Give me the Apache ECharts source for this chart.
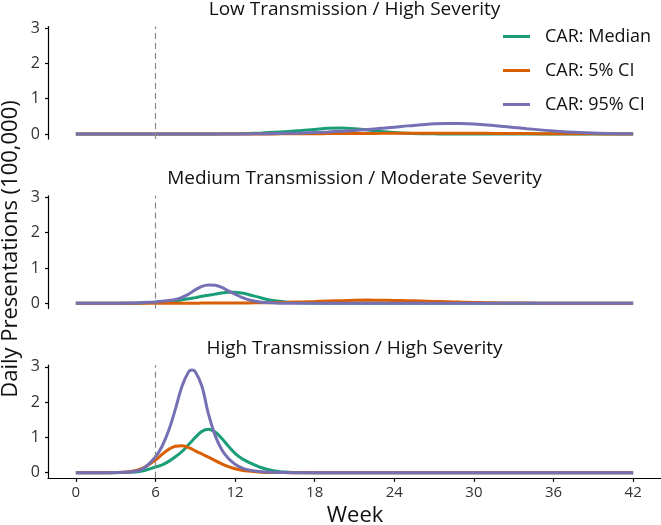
<!DOCTYPE html>
<html>
<head>
<meta charset="utf-8">
<script src="https://cdn.jsdelivr.net/npm/echarts@6/dist/echarts.min.js"></script>
<style>html,body{margin:0;padding:0;background:#fff}#c{width:661px;height:525px}</style>
</head>
<body>
<div id="c"></div>
<script>
var weeks = [0,2,4,5,6,6.5,7,7.5,8,8.5,8.75,9,9.5,10,10.5,11,11.5,12,12.5,13,14,15,16,17,18,19,20,21,22,23,24,25,26,27,28,29,30,31,32,33,34,36,38,40,42];

var panelTitles = ["Low Transmission / High Severity", "Medium Transmission / Moderate Severity", "High Transmission / High Severity"];
var seriesNames = ["CAR: Median", "CAR: 5% CI", "CAR: 95% CI"];
var xTicks = [0,6,12,18,24,30,36,42];
var yTicks = [0,1,2,3];
var interventionWeek = 6;

var lowMedian = [0,0,0,0,0,0,0,0,0,0,0,0,0,0.002,0.003,0.004,0.006,0.008,0.011,0.015,0.03,0.05,0.07,0.1,0.13,0.16,0.17,0.15,0.11,0.07,0.04,0.02,0.01,0.005,0,0,0,0,0,0,0,0,0,0,0];
var low5 = [0,0,0,0,0,0,0,0,0,0,0,0,0,0,0,0,0,0,0,0,0.002,0.003,0.005,0.007,0.009,0.011,0.013,0.015,0.017,0.018,0.02,0.021,0.022,0.022,0.022,0.021,0.02,0.018,0.016,0.014,0.012,0.008,0.005,0.003,0.001];
var low95 = [0,0,0,0,0,0,0,0,0,0,0,0,0,0,0,0,0,0.001,0.002,0.003,0.006,0.012,0.02,0.03,0.045,0.06,0.08,0.1,0.13,0.16,0.19,0.23,0.26,0.29,0.3,0.295,0.28,0.255,0.22,0.185,0.15,0.085,0.04,0.015,0.005];

var medMedian = [0,0,0.002,0.01,0.03,0.04,0.05,0.07,0.1,0.13,0.145,0.16,0.2,0.23,0.26,0.29,0.31,0.31,0.29,0.25,0.15,0.07,0.03,0.012,0.005,0,0,0,0,0,0,0,0,0,0,0,0,0,0,0,0,0,0,0,0];
var med5 = [0,0,0,0.001,0.002,0.002,0.003,0.003,0.004,0.004,0.004,0.004,0.005,0.005,0.005,0.006,0.006,0.007,0.008,0.01,0.015,0.022,0.03,0.04,0.05,0.065,0.075,0.085,0.09,0.088,0.082,0.074,0.064,0.053,0.043,0.034,0.026,0.018,0.012,0.008,0.005,0.002,0.001,0,0];
var med95 = [0,0,0.005,0.02,0.04,0.055,0.08,0.11,0.17,0.26,0.32,0.38,0.48,0.52,0.51,0.45,0.35,0.26,0.17,0.1,0.03,0.01,0.003,0.001,0,0,0,0,0,0,0,0,0,0,0,0,0,0,0,0,0,0,0,0,0];

var highMedian = [0,0,0.01,0.05,0.16,0.22,0.32,0.45,0.6,0.8,0.9,1.0,1.17,1.23,1.15,0.97,0.75,0.55,0.4,0.3,0.14,0.05,0.015,0.005,0,0,0,0,0,0,0,0,0,0,0,0,0,0,0,0,0,0,0,0,0];
var high5 = [0,0,0.03,0.12,0.36,0.52,0.66,0.75,0.76,0.71,0.67,0.62,0.53,0.44,0.34,0.25,0.17,0.11,0.07,0.045,0.015,0.005,0.002,0,0,0,0,0,0,0,0,0,0,0,0,0,0,0,0,0,0,0,0,0,0];
var high95 = [0,0,0.02,0.1,0.45,0.75,1.2,1.8,2.45,2.86,2.91,2.86,2.45,1.65,1.05,0.65,0.4,0.24,0.14,0.08,0.03,0.01,0.003,0.001,0,0,0,0,0,0,0,0,0,0,0,0,0,0,0,0,0,0,0,0,0];

(function () {
var panels = [[lowMedian, low5, low95],[medMedian, med5, med95],[highMedian, high5, high95]];
var colors = ["#1B9E77", "#D95F02", "#7570B3"];
var FONT = "Open Sans";

var zeroY = [134, 303.3, 472.7];
var pxPerUnit = 35.3;
var yMin = -0.145, yMax = 3.045;
var grids = [], xAxes = [], yAxes = [], series = [], graphics = [];

for (var p = 0; p < 3; p++) {
  var gTop = zeroY[p] - yMax * pxPerUnit;
  var gH = (yMax - yMin) * pxPerUnit;
  grids.push({left: 48, right: 0, top: gTop, height: gH});
  var isBottom = p === 2;
  xAxes.push({
    type: 'value', gridIndex: p, min: -2.1, max: 44.1,
    splitLine: {show: false},
    axisLine: {show: isBottom, onZero: false, lineStyle: {color: '#000', width: 1.2}},
    axisTick: {show: isBottom, customValues: xTicks, length: 4, lineStyle: {color: '#000', width: 1.2}},
    axisLabel: {show: isBottom, customValues: xTicks, margin: 7, fontSize: 15, color: '#333', fontFamily: FONT}
  });
  yAxes.push({
    type: 'value', gridIndex: p, min: yMin, max: yMax,
    splitLine: {show: false},
    axisLine: {show: true, onZero: false, lineStyle: {color: '#000', width: 1.2}},
    axisTick: {show: true, customValues: yTicks, length: 3, lineStyle: {color: '#000', width: 1.2}},
    axisLabel: {show: true, customValues: yTicks, margin: 8, fontSize: 16, color: '#333', fontFamily: FONT}
  });
  for (var s = 0; s < 3; s++) {
    var vals = panels[p][s];
    var d = weeks.map(function (w, i) { return [w, vals[i]]; });
    var ser = {
      type: 'line', name: seriesNames[s], xAxisIndex: p, yAxisIndex: p,
      data: d, showSymbol: false, smooth: 0.35,
      lineStyle: {color: colors[s], width: 3}, itemStyle: {color: colors[s]},
      z: 2 + s
    };
    if (s === 0) {
      ser.markLine = {
        silent: true, symbol: 'none', label: {show: false},
        lineStyle: {type: [6, 4], color: '#888', width: 1.2},
        data: [{xAxis: interventionWeek}]
      };
    }
    series.push(ser);
  }
  graphics.push({
    type: 'text', x: 354.5, y: zeroY[p] - 124.5,
    style: {text: panelTitles[p], fontSize: 19, fontFamily: FONT, fill: '#111', align: 'center', verticalAlign: 'middle'}
  });
}

graphics.push({
  type: 'text', x: 11, y: 249, rotation: Math.PI / 2,
  style: {text: 'Daily Presentations (100,000)', fontSize: 22, fontFamily: FONT, fill: '#111', align: 'center', verticalAlign: 'middle'}
});
graphics.push({
  type: 'text', x: 355, y: 516,
  style: {text: 'Week', fontSize: 22, fontFamily: FONT, fill: '#111', align: 'center', verticalAlign: 'middle'}
});

var chart = echarts.init(document.getElementById('c'), null, {renderer: 'canvas'});
chart.setOption({
  animation: false,
  backgroundColor: '#fff',
  grid: grids, xAxis: xAxes, yAxis: yAxes, series: series,
  legend: {
    data: seriesNames, orient: 'vertical', left: 498, top: 22,
    icon: 'rect', itemWidth: 27, itemHeight: 3, itemGap: 15,
    textStyle: {fontSize: 18, fontFamily: FONT, color: '#111', lineHeight: 19, padding: [0, 0, 0, 10]}
  },
  graphic: graphics
});
})();
</script>
</body>
</html>
